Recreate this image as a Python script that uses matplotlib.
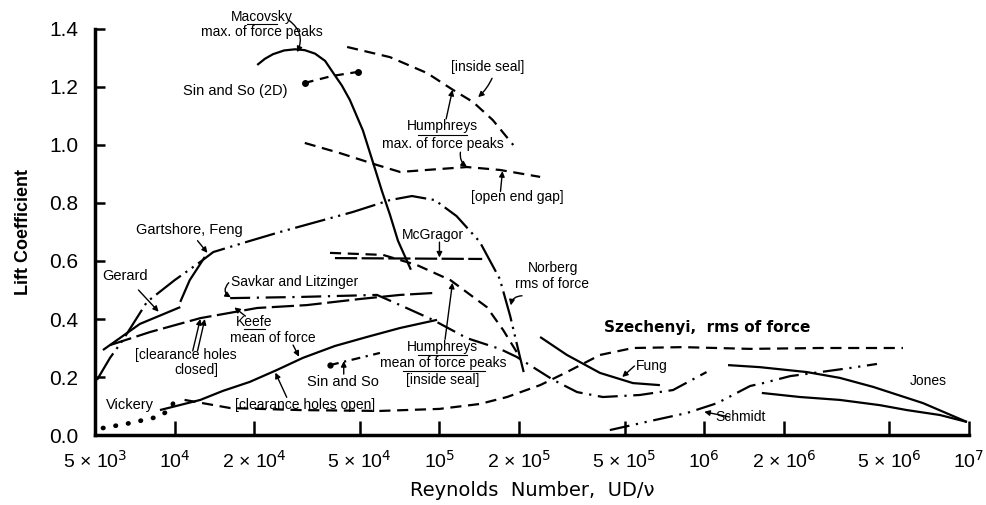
import matplotlib
matplotlib.use("Agg")
import matplotlib.pyplot as plt

plt.rcParams['font.family'] = ['Liberation Sans', 'DejaVu Sans']

macovsky_re = [2.05e4, 2.19e4, 2.35e4, 2.59e4, 2.85e4, 3.10e4, 3.39e4, 3.70e4, 3.96e4, 4.28e4,
               4.59e4, 5.14e4, 5.61e4, 6.07e4, 6.5e4, 6.97e4, 7.8e4]
macovsky_cl = [1.276, 1.297, 1.313, 1.326, 1.33, 1.327, 1.315, 1.29, 1.25, 1.205,
               1.155, 1.05, 0.94, 0.84, 0.76, 0.67, 0.57]

sinso2d_re = [3.10e4, 3.93e4, 4.92e4]
sinso2d_cl = [1.214, 1.238, 1.252]

hum_seal_re = [4.48e4, 6.5e4, 8.98e4, 1.125e5, 1.34e5, 1.59e5, 1.90e5]
hum_seal_cl = [1.338, 1.303, 1.248, 1.19, 1.148, 1.086, 1.0]

hum_gap_re = [3.10e4, 4.21e4, 5.81e4, 7.1e4, 8.98e4, 1.27e5, 1.69e5, 2.40e5]
hum_gap_cl = [1.007, 0.972, 0.931, 0.907, 0.914, 0.924, 0.914, 0.89]

norberg_re = [5.09e3, 5.7e3, 6.38e3, 7.86e3, 1.0e4, 1.25e4, 1.40e4, 1.92e4, 2.5e4, 3.54e4,
              4.71e4, 6.5e4, 7.87e4, 9.61e4, 1.16e5, 1.42e5, 1.69e5, 1.85e5, 2.01e5, 2.08e5]
norberg_cl = [0.19, 0.266, 0.328, 0.459, 0.534, 0.597, 0.631, 0.669, 0.70, 0.738,
              0.769, 0.81, 0.824, 0.81, 0.755, 0.666, 0.538, 0.41, 0.272, 0.217]

gartshore_re = [1.05e4, 1.14e4, 1.30e4]
gartshore_cl = [0.459, 0.534, 0.614]

gerard_re = [5.36e3, 7.39e3, 1.05e4]
gerard_cl = [0.293, 0.383, 0.441]

keefe_closed_re = [5.7e3, 8.07e3, 1.25e4, 2.05e4, 3.16e4, 5.01e4, 7.1e4, 9.61e4]
keefe_closed_cl = [0.31, 0.355, 0.403, 0.438, 0.448, 0.469, 0.483, 0.49]

savkar_re = [1.62e4, 2.97e4, 5.81e4, 7.1e4, 9.44e4, 1.27e5, 1.69e5, 1.96e5, 2.69e5,
             3.31e5, 4.14e5, 5.71e5, 7.62e5, 1.02e6]
savkar_cl = [0.472, 0.476, 0.483, 0.448, 0.397, 0.334, 0.297, 0.269, 0.19,
             0.148, 0.131, 0.138, 0.155, 0.217]

hum_mean_re = [3.86e4, 6.12e4, 8.22e4, 1.10e5, 1.51e5, 1.74e5, 2.01e5]
hum_mean_cl = [0.628, 0.621, 0.586, 0.534, 0.441, 0.362, 0.269]

mcgragor_re = [4.03e4, 1.45e5]
mcgragor_cl = [0.61, 0.607]

szechenyi_re = [1.09e4, 1.62e4, 2.97e4, 5.96e4, 1.0e5, 1.42e5, 1.80e5, 2.40e5, 3.03e5,
                4.04e5, 5.38e5, 8.31e5, 1.49e6, 2.74e6, 5.63e6]
szechenyi_cl = [0.121, 0.093, 0.086, 0.083, 0.09, 0.107, 0.131, 0.172, 0.217,
                0.276, 0.30, 0.303, 0.297, 0.30, 0.30]

vickery_re = [5.36e3, 6.78e3, 8.58e3, 9.6e3, 1.01e4]
vickery_cl = [0.024, 0.041, 0.062, 0.086, 0.128]

keefe_open_re = [8.8e3, 1.25e4, 1.52e4, 1.92e4, 2.43e4, 3.05e4, 4.03e4, 5.32e4, 7.1e4, 9.79e4]
keefe_open_cl = [0.086, 0.121, 0.152, 0.183, 0.224, 0.266, 0.307, 0.338, 0.369, 0.397]

sinso_re = [3.86e4, 5.96e4]
sinso_cl = [0.241, 0.283]

fung_re = [2.40e5, 3.03e5, 4.04e5, 5.38e5, 6.8e5]
fung_cl = [0.338, 0.276, 0.214, 0.179, 0.172]

schmidt_re = [4.4e5, 6.24e5, 8.61e5, 1.12e6, 1.49e6, 1.67e6, 2.11e6, 2.74e6, 3.55e6, 4.49e6]
schmidt_cl = [0.017, 0.048, 0.076, 0.11, 0.169, 0.179, 0.203, 0.217, 0.231, 0.245]

jones_top_re = [1.23e6, 1.62e6, 2.44e6, 3.25e6, 4.34e6, 6.7e6, 9.82e6]
jones_top_cl = [0.241, 0.234, 0.217, 0.197, 0.166, 0.11, 0.045]

jones_low_re = [1.65e6, 2.3e6, 3.25e6, 4.6e6, 5.82e6, 7.76e6, 9.82e6]
jones_low_cl = [0.145, 0.131, 0.121, 0.103, 0.086, 0.069, 0.045]

xticks = [5e3, 1e4, 2e4, 5e4, 1e5, 2e5, 5e5, 1e6, 2e6, 5e6, 1e7]
xtick_labels = [r'5 × 10$^3$', r'10$^4$', r'2 × 10$^4$', r'5 × 10$^4$', r'10$^5$',
                r'2 × 10$^5$', r'5 × 10$^5$', r'10$^6$', r'2 × 10$^6$', r'5 × 10$^6$', r'10$^7$']
yticks = [0.0, 0.2, 0.4, 0.6, 0.8, 1.0, 1.2, 1.4]

fig = plt.figure(figsize=(9.86, 5.05), dpi=100)
ax = fig.add_axes([0.0963, 0.1386, 0.8865, 0.804])
ax.set_xscale('log')
ax.set_xlim(5e3, 1e7)
ax.set_ylim(0, 1.4)

lw = 1.6
k = dict(color='black', lw=lw, solid_capstyle='butt')
dashed = (0, (5, 3))

ax.plot(macovsky_re, macovsky_cl, **k)
ax.plot(sinso2d_re, sinso2d_cl, ls=(0, (4, 3)), **k)
ax.plot([sinso2d_re[0], sinso2d_re[-1]], [sinso2d_cl[0], sinso2d_cl[-1]], 'o', color='black', ms=4)
ax.plot(hum_seal_re, hum_seal_cl, ls=dashed, **k)
ax.plot(hum_gap_re, hum_gap_cl, ls=dashed, **k)
ax.plot(norberg_re, norberg_cl, ls=(0, (14, 2.5, 1, 2.5, 1, 2.5)), **k)
ax.plot(gartshore_re, gartshore_cl, **k)
ax.plot(gerard_re, gerard_cl, **k)
ax.plot(keefe_closed_re, keefe_closed_cl, ls=(0, (10, 2.5)), **k)
ax.plot(savkar_re, savkar_cl, ls=(0, (9, 3, 1, 3)), **k)
ax.plot(hum_mean_re, hum_mean_cl, ls=dashed, **k)
ax.plot(mcgragor_re, mcgragor_cl, ls=(0, (10, 2)), **k)
ax.plot(szechenyi_re, szechenyi_cl, ls=dashed, **k)
ax.plot(vickery_re, vickery_cl, color='black', lw=3.4, ls=(0, (0.1, 2.6)), dash_capstyle='round')
ax.plot(keefe_open_re, keefe_open_cl, **k)
ax.plot(sinso_re, sinso_cl, ls=(0, (4, 2.5, 1, 2.5)), **k)
ax.plot(sinso_re[:1], sinso_cl[:1], 'o', color='black', ms=3.5)
ax.plot(fung_re, fung_cl, **k)
ax.plot(schmidt_re, schmidt_cl, ls=(0, (9, 3, 1, 3, 1, 3)), **k)
ax.plot(jones_top_re, jones_top_cl, **k)
ax.plot(jones_low_re, jones_low_cl, **k)

# labels
fs = 10
def lab(x, y, s, **kw):
    ax.text(x, y, s, fontsize=kw.pop('fontsize', fs), ha=kw.pop('ha', 'center'),
            va=kw.pop('va', 'center'), clip_on=False, **kw)

def uline(x0, x1, y):
    ax.plot([x0, x1], [y, y], color='black', lw=0.8, clip_on=False)

lab(2.14e4, 1.44, 'Macovsky')
uline(1.88e4, 2.43e4, 1.418)
lab(2.14e4, 1.39, 'max. of force peaks')
lab(1.69e4, 1.186, 'Sin and So (2D)', fontsize=10.5)
lab(1.52e5, 1.269, '[inside seal]')
lab(1.03e5, 1.064, 'Humphreys')
uline(8.3e4, 1.27e5, 1.036)
lab(1.03e5, 1.003, 'max. of force peaks')
lab(1.96e5, 0.821, '[open end gap]')
lab(9.45e4, 0.69, 'McGragor')
lab(2.68e5, 0.576, 'Norberg')
lab(2.65e5, 0.521, 'rms of force')
lab(1.14e4, 0.707, 'Gartshore, Feng', fontsize=10.5)
lab(6.49e3, 0.548, 'Gerard', fontsize=10.5)
lab(2.85e4, 0.528, 'Savkar and Litzinger', fontsize=10)
lab(2.0e4, 0.39, 'Keefe')
uline(1.82e4, 2.2e4, 0.364)
lab(2.35e4, 0.333, 'mean of force')
lab(1.1e4, 0.276, '[clearance holes')
lab(1.21e4, 0.224, 'closed]')
lab(1.03e5, 0.302, 'Humphreys')
uline(8.3e4, 1.27e5, 0.275)
lab(1.03e5, 0.248, 'mean of force peaks')
uline(7.3e4, 1.48e5, 0.222)
lab(1.03e5, 0.19, '[inside seal]')
lab(4.32e4, 0.183, 'Sin and So', fontsize=10.5)
lab(6.78e3, 0.103, 'Vickery', fontsize=10.5)
lab(3.1e4, 0.103, '[clearance holes open]')
lab(1.03e6, 0.372, 'Szechenyi,  rms of force', fontsize=11, fontweight='bold',
    family=['DejaVu Sans'])
lab(5.5e5, 0.238, 'Fung', ha='left')
lab(1.37e6, 0.062, 'Schmidt')
lab(7.0e6, 0.186, 'Jones')

# pointer arrows
ap = dict(arrowstyle='-|>', color='black', lw=1.0, mutation_scale=8, shrinkA=0, shrinkB=0)
def arrow(x0, y0, x1, y1, rad=0.0):
    ax.annotate('', xy=(x1, y1), xytext=(x0, y0),
                arrowprops=dict(ap, connectionstyle=f'arc3,rad={rad}'), annotation_clip=False)

arrow(2.7e4, 1.43, 2.9e4, 1.32, rad=-0.4)
arrow(1.58e5, 1.23, 1.4e5, 1.165, rad=-0.1)
arrow(1.06e5, 1.09, 1.12e5, 1.19)
arrow(1.2e5, 0.975, 1.27e5, 0.925, rad=0.3)
arrow(1.7e5, 0.84, 1.73e5, 0.91)
arrow(1.0e5, 0.665, 1.0e5, 0.612)
arrow(2.05e5, 0.48, 1.86e5, 0.447, rad=0.4)
arrow(1.05e5, 0.33, 1.12e5, 0.525)
arrow(4.35e4, 0.21, 4.35e4, 0.255)
arrow(1.22e4, 0.67, 1.33e4, 0.628)
arrow(7.3e3, 0.5, 8.7e3, 0.425)
arrow(1.85e4, 0.41, 1.68e4, 0.44)
arrow(2.8e4, 0.31, 2.95e4, 0.27)
arrow(2.65e4, 0.13, 2.4e4, 0.215)
arrow(1.17e4, 0.29, 1.25e4, 0.4)
arrow(1.22e4, 0.29, 1.3e4, 0.4)
arrow(1.6e4, 0.525, 1.63e4, 0.475, rad=0.6)
arrow(5.45e5, 0.238, 4.9e5, 0.2)
arrow(1.25e6, 0.062, 1.0e6, 0.08)

ax.spines['top'].set_visible(False)
ax.spines['right'].set_visible(False)
for s in ('left', 'bottom'):
    ax.spines[s].set_linewidth(2.5)
ax.set_xticks(xticks)
ax.set_xticklabels(xtick_labels)
ax.minorticks_off()
ax.set_yticks(yticks)
ax.set_yticklabels([f'{v:.1f}' for v in yticks])
ax.tick_params(axis='x', direction='in', length=10, width=1.8, labelsize=14, pad=11)
ax.tick_params(axis='y', direction='in', length=7, width=1.8, labelsize=15, pad=12)
ax.set_xlabel('Reynolds  Number,  UD/ν', fontsize=14, labelpad=6, family=['DejaVu Sans'])
ax.set_ylabel('Lift Coefficient', fontsize=13, fontweight='bold', labelpad=12)

fig.savefig('out.png', dpi=100)
